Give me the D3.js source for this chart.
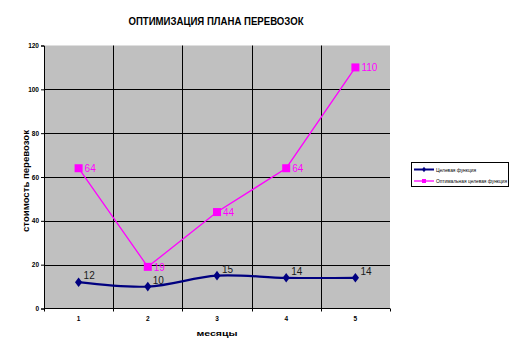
<!DOCTYPE html>
<html>
<head>
<meta charset="utf-8">
<script src="https://cdn.jsdelivr.net/npm/d3@7"></script>
<style>
  html, body { margin: 0; padding: 0; background: #fff; }
  svg { display: block; font-family: "Liberation Sans", Arial, sans-serif; }
</style>
</head>
<body>
<svg id="chart" width="518" height="348"></svg>
<script>
// Months and the two cost series
const months = ["1", "2", "3", "4", "5"];
const targetCost = [12, 10, 15, 14, 14];
const optimalCost = [64, 19, 44, 64, 110];
const yTicks = [0, 20, 40, 60, 80, 100, 120];
const seriesNames = ["Целевая функция", "Оптимальная целевая функция"];

const svg = d3.select("#chart");
const plot = { left: 44, right: 390, top: 45.5, bottom: 308.5 };

const x = d3.scaleBand().domain(months).range([plot.left, plot.right]);
const y = d3.scaleLinear().domain([0, 120]).range([plot.bottom, plot.top]);
const cx = d => x(d) + x.bandwidth() / 2;

// Plot area background
svg.append("rect")
  .attr("x", plot.left).attr("y", plot.top)
  .attr("width", plot.right - plot.left).attr("height", plot.bottom - plot.top)
  .attr("fill", "#c0c0c0");

// Horizontal gridlines
svg.append("g").selectAll("line").data(yTicks.slice(1, -1)).join("line")
  .attr("x1", plot.left).attr("x2", plot.right)
  .attr("y1", d => Math.round(y(d)) + 0.5).attr("y2", d => Math.round(y(d)) + 0.5)
  .attr("stroke", "#000").attr("stroke-width", 1);

// Vertical gridlines at category boundaries
svg.append("g").selectAll("line").data(months.slice(1)).join("line")
  .attr("x1", d => Math.round(x(d)) + 0.5).attr("x2", d => Math.round(x(d)) + 0.5)
  .attr("y1", plot.top).attr("y2", plot.bottom)
  .attr("stroke", "#000").attr("stroke-width", 1);

// Y axis
const yAxis = svg.append("g")
  .attr("transform", `translate(${plot.left},0)`)
  .call(d3.axisLeft(y).tickValues(yTicks).tickSize(3).tickPadding(2));
yAxis.select(".domain").attr("stroke", "#000");
yAxis.selectAll("text").attr("font-size", 6.5).attr("font-weight", "bold").attr("fill", "#000");

// X axis with ticks at category boundaries
const xAxisG = svg.append("g").attr("transform", `translate(0,${plot.bottom})`);
xAxisG.append("line").attr("x1", plot.left).attr("x2", plot.right)
  .attr("stroke", "#000");
xAxisG.selectAll("line.tick").data(months.concat(["end"])).join("line")
  .attr("class", "tick")
  .attr("x1", (d, i) => Math.round(plot.left + i * x.bandwidth()) + 0.5)
  .attr("x2", (d, i) => Math.round(plot.left + i * x.bandwidth()) + 0.5)
  .attr("y1", 0).attr("y2", 3).attr("stroke", "#000");
xAxisG.selectAll("text").data(months).join("text")
  .attr("x", d => cx(d)).attr("y", 12)
  .attr("text-anchor", "middle")
  .attr("font-size", 6.5).attr("font-weight", "bold")
  .text(d => d);

// Titles
svg.append("text")
  .attr("x", 216).attr("y", 25).attr("text-anchor", "middle")
  .attr("font-size", 10.5).attr("font-weight", "bold")
  .attr("textLength", 175).attr("lengthAdjust", "spacingAndGlyphs")
  .text("ОПТИМИЗАЦИЯ ПЛАНА ПЕРЕВОЗОК");

svg.append("text")
  .attr("transform", "translate(29,181) rotate(-90)")
  .attr("text-anchor", "middle")
  .attr("font-size", 9).attr("font-weight", "bold")
  .attr("textLength", 102).attr("lengthAdjust", "spacingAndGlyphs")
  .text("стоимость перевозок");

svg.append("text")
  .attr("x", 217).attr("y", 336).attr("text-anchor", "middle")
  .attr("font-size", 6.5).attr("font-weight", "bold")
  .attr("textLength", 41).attr("lengthAdjust", "spacingAndGlyphs")
  .text("месяцы");

// Optimal cost series (straight segments, square markers)
const optColor = "#ff00ff";
svg.append("path")
  .datum(optimalCost)
  .attr("d", d3.line().x((d, i) => cx(months[i])).y(d => y(d)))
  .attr("fill", "none").attr("stroke", optColor).attr("stroke-width", 1.3);
svg.append("g").selectAll("rect").data(optimalCost).join("rect")
  .attr("x", (d, i) => cx(months[i]) - 4).attr("y", d => y(d) - 4)
  .attr("width", 8).attr("height", 8).attr("fill", optColor);
svg.append("g").selectAll("text").data(optimalCost).join("text")
  .attr("x", (d, i) => cx(months[i]) + 6).attr("y", d => y(d) + 4)
  .attr("font-size", 10).attr("fill", optColor)
  .text(d => d);

// Target cost series (smoothed line, diamond markers)
const tgtColor = "#000080";
svg.append("path")
  .datum(targetCost)
  .attr("d", d3.line().curve(d3.curveCatmullRom.alpha(0.5)).x((d, i) => cx(months[i])).y(d => y(d)))
  .attr("fill", "none").attr("stroke", tgtColor).attr("stroke-width", 2.2);
const diamond = "M0,-4.8L3.6,0L0,4.8L-3.6,0Z";
svg.append("g").selectAll("path").data(targetCost).join("path")
  .attr("transform", (d, i) => `translate(${cx(months[i])},${y(d)})`)
  .attr("d", diamond).attr("fill", tgtColor);
svg.append("g").selectAll("text").data(targetCost).join("text")
  .attr("x", (d, i) => cx(months[i]) + 5).attr("y", d => y(d) - 3)
  .attr("font-size", 10).attr("fill", "#1a1a1a")
  .text(d => d);

// Legend
const lg = svg.append("g");
lg.append("rect").attr("x", 411.5).attr("y", 162.5).attr("width", 97).attr("height", 24)
  .attr("fill", "#fff").attr("stroke", "#000").attr("stroke-width", 1);
const legendItems = [
  { name: seriesNames[0], color: tgtColor, width: 2, marker: "diamond", yy: 169.5, len: 40 },
  { name: seriesNames[1], color: optColor, width: 1.3, marker: "square", yy: 181, len: 71 }
];
legendItems.forEach(it => {
  lg.append("line").attr("x1", 414).attr("x2", 434).attr("y1", it.yy).attr("y2", it.yy)
    .attr("stroke", it.color).attr("stroke-width", it.width);
  if (it.marker === "diamond") {
    lg.append("path").attr("transform", `translate(424,${it.yy}) scale(0.55)`)
      .attr("d", diamond).attr("fill", it.color);
  } else {
    lg.append("rect").attr("x", 422).attr("y", it.yy - 2).attr("width", 4).attr("height", 4)
      .attr("fill", it.color);
  }
  lg.append("text").attr("x", 436).attr("y", it.yy + 2)
    .attr("font-size", 5.5)
    .attr("textLength", it.len).attr("lengthAdjust", "spacingAndGlyphs")
    .text(it.name);
});
</script>
</body>
</html>
